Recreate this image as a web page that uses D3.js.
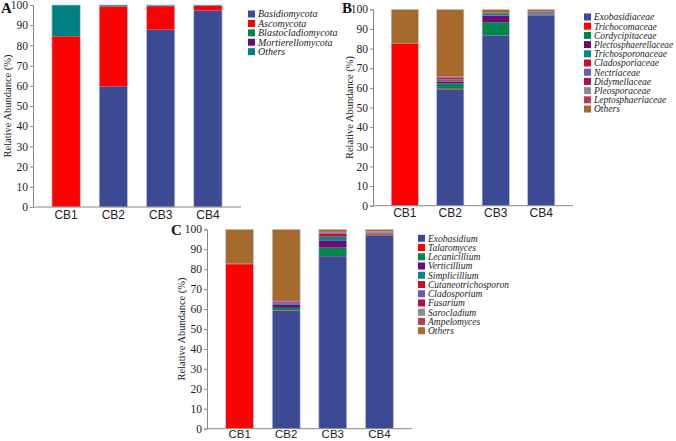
<!DOCTYPE html>
<html>
<head>
<meta charset="utf-8">
<script src="https://cdn.jsdelivr.net/npm/d3@7"></script>
<style>
  html, body { margin: 0; padding: 0; background: #fff; }
  svg { display: block; }
</style>
</head>
<body>
<svg id="chart" width="676" height="441"></svg>
<script>
// ---------- DATA ----------
const samples = ["CB1", "CB2", "CB3", "CB4"];
const yTicks = [0, 10, 20, 30, 40, 50, 60, 70, 80, 90, 100];

// Panel A: phylum level
const phylumNames = ["Basidiomycota", "Ascomycota", "Blastocladiomycota", "Mortierellomycota", "Others"];
const phylumValues = [
  [0, 59.7, 87.8, 97.3],   // Basidiomycota
  [84.5, 39.6, 11.6, 2.3], // Ascomycota
  [0, 0.1, 0.1, 0],        // Blastocladiomycota
  [0, 0, 0.2, 0],          // Mortierellomycota
  [15.5, 0.6, 0.3, 0.4]    // Others
];
const phylumColors = ["#3C4A94", "#FF0000", "#00874B", "#6E0A78", "#008080"];

// Panel B: family level
const familyNames = ["Exobasidiaceae", "Trichocomaceae", "Cordycipitaceae", "Plectosphaerellaceae",
  "Trichosporonaceae", "Cladosporiaceae", "Nectriaceae", "Didymellaceae", "Pleosporaceae",
  "Leptosphaeriaceae", "Others"];
const familyValues = [
  [0, 59.2, 86.7, 96.9],  // Exobasidiaceae
  [82.5, 0.3, 0.1, 0.1],  // Trichocomaceae
  [0, 2.7, 6.6, 0.3],     // Cordycipitaceae
  [0, 1.0, 3.4, 0.1],     // Plectosphaerellaceae
  [0, 0.4, 1.1, 0.5],     // Trichosporonaceae
  [0, 0.5, 0.2, 0.3],     // Cladosporiaceae
  [0, 0.4, 0, 0.6],       // Nectriaceae
  [0, 0.5, 0.1, 0.2],     // Didymellaceae
  [0, 0.2, 0, 0.1],       // Pleosporaceae
  [0.2, 0.5, 0, 0],       // Leptosphaeriaceae
  [17.3, 34.3, 1.8, 0.9]  // Others
];

// Panel C: genus level
const genusNames = ["Exobasidium", "Talaromyces", "Lecanicillium", "Verticillium", "Simplicillium",
  "Cutaneotrichosporon", "Cladosporium", "Fusarium", "Sarocladium", "Ampelomyces", "Others"];
const genusValues = [
  [0, 59.2, 86.5, 96.9],  // Exobasidium
  [82.5, 0.2, 0.1, 0.1],  // Talaromyces
  [0, 1.2, 4.2, 0.1],     // Lecanicillium
  [0, 1.5, 3.4, 0.1],     // Verticillium
  [0, 0.6, 2.1, 0.1],     // Simplicillium
  [0, 0.3, 1.5, 0.5],     // Cutaneotrichosporon
  [0, 0.5, 0.4, 0.2],     // Cladosporium
  [0, 0.3, 0.2, 0.2],     // Fusarium
  [0, 0.3, 0.2, 0.7],     // Sarocladium
  [0.3, 0.4, 0.1, 0.1],   // Ampelomyces
  [17.2, 35.5, 1.3, 1.0]  // Others
];
const elevenColors = ["#3C4A94", "#FF0000", "#00874B", "#6E0A78", "#008A8C", "#C8102E",
  "#6B5BB0", "#A8104E", "#8C8C8C", "#B83A5A", "#A66B2C"];

// ---------- LAYOUT ----------
const panels = [
  { letter: "A", names: phylumNames, values: phylumValues, colors: phylumColors,
    x0: 33, x1: 241, yBottom: 207, yTop: 5, letterX: 1, letterY: 13, titleX: 10.5,
    legendX: 248, legendY: 14, legendStep: 9.42, legendFont: 10, xFont: 12, xPad: 3 },
  { letter: "B", names: familyNames, values: familyValues, colors: elevenColors,
    x0: 373, x1: 573, yBottom: 205.7, yTop: 9.3, letterX: 342, letterY: 13, titleX: 353,
    legendX: 584, legendY: 17, legendStep: 9.2, legendFont: 9.5, xFont: 12, xPad: 3 },
  { letter: "C", names: genusNames, values: genusValues, colors: elevenColors,
    x0: 207, x1: 412, yBottom: 428.7, yTop: 229.3, letterX: 171, letterY: 235, titleX: 185,
    legendX: 418, legendY: 238.3, legendStep: 9.24, legendFont: 9.5, xFont: 11.5, xPad: 1.5 }
];

const svg = d3.select("#chart");
const serif = "'Liberation Serif', 'Times New Roman', serif";
const sans = "'Liberation Sans', Arial, sans-serif";

panels.forEach(p => {
  const g = svg.append("g");
  const x = d3.scaleBand().domain(samples).range([p.x0, p.x1])
    .paddingInner(0.4).paddingOuter(0.4);
  const y = d3.scaleLinear().domain([0, 100]).range([p.yBottom, p.yTop]);

  // stack data
  const rows = samples.map((s, i) => {
    const r = { sample: s };
    p.names.forEach((n, k) => r[n] = p.values[k][i]);
    return r;
  });
  const series = d3.stack().keys(p.names)(rows);

  series.forEach((ser, k) => {
    g.append("g").attr("fill", p.colors[k])
      .selectAll("rect").data(ser).join("rect")
      .attr("x", d => x(d.data.sample))
      .attr("width", x.bandwidth())
      .attr("y", d => y(d[1]))
      .attr("height", d => Math.max(0, y(d[0]) - y(d[1])));
  });

  // faint bar outlines
  g.append("g").selectAll("rect").data(samples).join("rect")
    .attr("x", d => x(d)).attr("width", x.bandwidth())
    .attr("y", y(100)).attr("height", y(0) - y(100))
    .attr("fill", "none").attr("stroke", "#c3cbe4").attr("stroke-width", 0.7);

  // Y axis
  const yAxis = d3.axisLeft(y).tickValues(yTicks).tickSize(3).tickPadding(2);
  const ya = g.append("g").attr("transform", `translate(${p.x0},0)`).call(yAxis);
  ya.select(".domain").attr("stroke", "#888");
  ya.selectAll(".tick line").attr("stroke", "#888");
  ya.selectAll(".tick text").attr("font-family", serif).attr("font-size", 11.5).attr("fill", "#222");

  // X axis
  const xAxis = d3.axisBottom(x).tickSize(0).tickPadding(p.xPad);
  const xa = g.append("g").attr("transform", `translate(0,${p.yBottom})`).call(xAxis);
  xa.select(".domain").attr("stroke", "#888").attr("d", `M${p.x0},0H${p.x1}`);
  xa.selectAll(".tick text").attr("font-family", sans).attr("font-size", p.xFont).attr("fill", "#222");

  // Y title
  g.append("text")
    .attr("transform", `translate(${p.titleX},${(p.yBottom + p.yTop) / 2}) rotate(-90)`)
    .attr("text-anchor", "middle")
    .attr("font-family", serif).attr("font-size", 10.5).attr("fill", "#222")
    .text("Relative Abundance (%)");

  // Panel letter
  g.append("text").attr("x", p.letterX).attr("y", p.letterY)
    .attr("font-family", serif).attr("font-weight", "bold").attr("font-size", 15)
    .attr("fill", "#111").text(p.letter);

  // Legend
  const lg = g.append("g");
  p.names.forEach((n, k) => {
    const cy = p.legendY + k * p.legendStep;
    lg.append("rect").attr("x", p.legendX).attr("y", cy - 3.5)
      .attr("width", 7).attr("height", 7).attr("fill", p.colors[k]);
    const t = lg.append("text").attr("x", p.legendX + 10).attr("y", cy + 3.3)
      .attr("font-family", serif).attr("font-style", "italic").attr("font-size", p.legendFont)
      .attr("fill", "#222").text(n);
    const maxW = 673 - (p.legendX + 10);
    const w = t.node().getComputedTextLength();
    if (w > maxW) t.attr("textLength", maxW).attr("lengthAdjust", "spacingAndGlyphs");
  });
});
</script>
</body>
</html>
